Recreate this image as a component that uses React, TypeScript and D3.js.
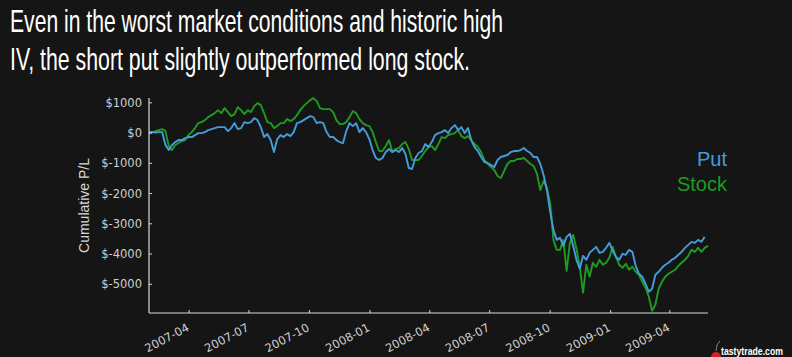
import React from "react";
import * as d3 from "d3";

const titleLines = [
  "Even in the worst market conditions and historic high",
  "IV, the short put slightly outperformed long stock.",
];

const startDate = "2007-01-30";
const stepDays = 5;

const putValues = [
  33, 40, 20, 30, 33, -396, -561, -396, -297, -231,
  -231, -165, -132, -132, -66, 0, 0, 33, 99, 132,
  165, 198, 198, 198, 66, 165, 330, 132, 165, 363,
  330, 363, 495, 429, 198, -132, -33, -231, -627, -198,
  -66, -132, -33, -99, 33, 330, 363, 429, 495, 561,
  528, 330, 363, 330, 33, -132, -132, -231, -297, -330,
  66, 330, 231, 330, 33, 165, 33, -198, -561, -825,
  -891, -825, -627, -528, -627, -561, -627, -495, -693, -1155,
  -1188, -825, -660, -594, -363, -462, -297, -66, 0, 33,
  99, 0, 165, 264, 99, 198, 0, 165, -231, -462,
  -594, -792, -957, -990, -1056, -1122, -891, -792, -759, -726,
  -627, -594, -594, -561, -495, -594, -660, -792, -792, -1023,
  -1386, -1881, -2607, -3201, -3531, -3465, -3729, -3432, -3333, -3729,
  -4191, -4488, -4059, -4191, -3960, -3861, -3762, -3960, -3927, -3795,
  -3630, -3894, -4092, -4191, -3993, -4026, -3861, -3927, -4389, -4653,
  -4752, -4983, -5247, -5148, -4686, -4587, -4455, -4356, -4290, -4191,
  -4125, -4026, -3927, -3795, -3696, -3597, -3630, -3531, -3597, -3432,
];

const stockValues = [
  33, 10, 66, 99, 132, 66, -429, -561, -396, -330,
  -264, -231, -66, 33, 165, 330, 363, 429, 528, 594,
  660, 759, 660, 825, 693, 561, 627, 858, 759, 627,
  759, 693, 891, 990, 924, 660, 363, 330, 165, 231,
  330, 330, 462, 396, 462, 594, 759, 891, 990, 1089,
  1155, 1056, 825, 792, 792, 792, 693, 429, 297, 297,
  363, 528, 726, 660, 462, 330, 264, 231, 33, -297,
  -594, -594, -429, -231, -627, -528, -495, -363, -297, -528,
  -891, -891, -891, -759, -594, -462, -429, -561, -363, -132,
  -165, -66, -33, 0, 99, -99, -165, -99, -231, -363,
  -462, -627, -891, -1023, -1122, -1221, -1419, -1485, -1254, -1023,
  -924, -924, -858, -858, -825, -924, -1023, -1089, -1353, -1881,
  -1584, -1815, -2310, -3531, -3861, -3861, -3531, -4554, -3630, -3366,
  -3828, -4422, -5280, -4356, -4752, -4290, -4422, -4191, -4356, -4290,
  -4125, -3762, -4092, -4356, -4455, -4323, -4521, -4422, -4587, -4686,
  -4917, -5115, -5412, -5874, -5676, -5148, -4917, -4752, -4653, -4587,
  -4521, -4389, -4290, -4191, -4059, -3861, -3927, -3795, -3927, -3795,
  -3729,
];

const yTicks = [1000, 0, -1000, -2000, -3000, -4000, -5000];
const xTickLabels = [
  "2007-04", "2007-07", "2007-10", "2008-01", "2008-04",
  "2008-07", "2008-10", "2009-01", "2009-04",
];
const seriesNames = ["Put", "Stock"];

const W = 792;
const H = 357;
const plot = { left: 149, right: 708, top: 98, bottom: 313 };
const BLUE = "#439ddb";
const GREEN = "#1f9b22";

export default function App() {
  const parse = d3.timeParse("%Y-%m-%d");
  const start = parse(startDate) as Date;
  const n = Math.max(putValues.length, stockValues.length);
  const dates = d3.range(n).map((i) => d3.timeDay.offset(start, i * stepDays));

  const x = d3
    .scaleTime()
    .domain([start, d3.timeDay.offset(start, 850)])
    .range([plot.left, plot.right]);
  const y = d3.scaleLinear().domain([-5950, 1160]).range([plot.bottom, plot.top]);

  const line = d3
    .line<number>()
    .x((_, i) => x(dates[i]))
    .y((v) => y(v));

  const parseMonth = d3.timeParse("%Y-%m");
  const tickFont = "'DejaVu Sans', sans-serif";
  const axisColor = "#d8d8d8";

  return (
    <svg
      width={W}
      height={H}
      style={{ position: "absolute", left: 0, top: 0, display: "block" }}
    >
      <rect x={0} y={0} width={W} height={H} fill="#151515" />
      {titleLines.map((t, i) => (
        <text
          key={i}
          x={10}
          y={32 + i * 38}
          fill="#ffffff"
          fontSize={32}
          fontFamily="'Liberation Sans Narrow', 'Arial Narrow', 'Liberation Sans', sans-serif"
          textLength={i === 0 ? 493 : 460}
          lengthAdjust="spacingAndGlyphs"
        >
          {t}
        </text>
      ))}

      <path d={line(stockValues) || ""} fill="none" stroke={GREEN} strokeWidth={1.9} strokeLinejoin="round" />
      <path d={line(putValues) || ""} fill="none" stroke={BLUE} strokeWidth={1.9} strokeLinejoin="round" />

      <line x1={plot.left} x2={plot.left} y1={plot.top} y2={plot.bottom} stroke={axisColor} strokeWidth={1.2} />
      <line x1={plot.left} x2={plot.right} y1={plot.bottom} y2={plot.bottom} stroke={axisColor} strokeWidth={1.2} />

      {yTicks.map((v) => (
        <g key={v}>
          <line x1={plot.left} x2={plot.left + 3} y1={y(v)} y2={y(v)} stroke={axisColor} />
          <text
            x={plot.left - 7}
            y={y(v)}
            dy="0.35em"
            textAnchor="end"
            fill="#cfcfcf"
            fontSize={11.5}
            fontFamily={tickFont}
          >
            {`$${v}`}
          </text>
        </g>
      ))}

      {xTickLabels.map((lbl) => {
        const xx = x(parseMonth(lbl) as Date);
        return (
          <g key={lbl}>
            <line x1={xx} x2={xx} y1={plot.bottom} y2={plot.bottom - 3} stroke={axisColor} />
            <text
              transform={`translate(${xx - 3},${plot.bottom + 10}) rotate(-28)`}
              textAnchor="end"
              dy="0.7em"
              fill="#cfcfcf"
              fontSize={11.5}
              fontFamily={tickFont}
            >
              {lbl}
            </text>
          </g>
        );
      })}

      <text
        transform={`translate(89,${(plot.top + plot.bottom) / 2}) rotate(-90)`}
        textAnchor="middle"
        fill="#d8d8d8"
        fontSize={14}
        fontFamily="'Liberation Sans', sans-serif"
      >
        Cumulative P/L
      </text>

      <text x={727} y={166} textAnchor="end" fill={BLUE} fontSize={20} fontFamily="'Liberation Sans', sans-serif">
        {seriesNames[0]}
      </text>
      <text x={727} y={191} textAnchor="end" fill={GREEN} fontSize={20} fontFamily="'Liberation Sans', sans-serif">
        {seriesNames[1]}
      </text>

      <circle cx={716} cy={357} r={5} fill="#d0202a" />
      <path d="M716,351 Q716,344 720,341" stroke="#999" fill="none" strokeWidth={0.8} />
      <text
        x={721}
        y={355}
        fill="#ffffff"
        fontSize={10}
        fontWeight="bold"
        fontFamily="'Liberation Sans', sans-serif"
        textLength={62}
        lengthAdjust="spacingAndGlyphs"
      >
        tastytrade.com
      </text>
    </svg>
  );
}
